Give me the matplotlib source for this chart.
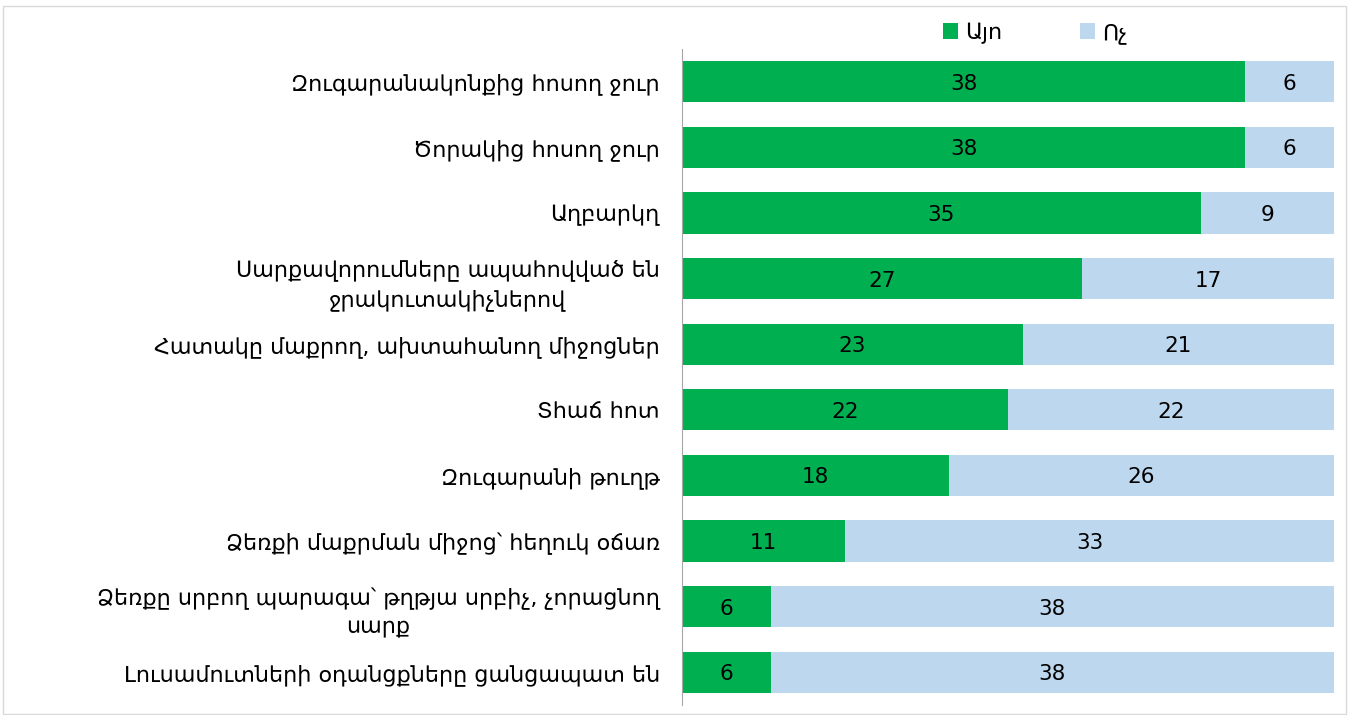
import matplotlib.pyplot as plt
from matplotlib.patches import Rectangle

plt.rcParams['font.family'] = ['DejaVu Sans']

# Տվյալներ
kategorianer = [
    "Զուգարանակոնքից հոսող ջուր",
    "Ծորակից հոսող ջուր",
    "Աղբարկղ",
    "Սարքավորումները ապահովված են\nջրակուտակիչներով",
    "Հատակը մաքրող, ախտահանող միջոցներ",
    "Տհաճ հոտ",
    "Զուգարանի թուղթ",
    "Ձեռքի մաքրման միջոց՝ հեղուկ օճառ",
    "Ձեռքը սրբող պարագա՝ թղթյա սրբիչ, չորացնող\nսարք",
    "Լուսամուտների օդանցքները ցանցապատ են",
]
ayo = [38, 38, 35, 27, 23, 22, 18, 11, 6, 6]
voch = [6, 6, 9, 17, 21, 22, 26, 33, 38, 38]
legend_labels = ["Այո", "Ոչ"]

fig = plt.figure(figsize=(13.49, 7.15), dpi=100)
ax = fig.add_axes([682 / 1349, 10 / 715, 652 / 1349, 656 / 715])

y = range(len(kategorianer))
b1 = ax.barh(y, ayo, height=0.63, color='#00B050', label=legend_labels[0])
b2 = ax.barh(y, voch, left=ayo, height=0.63, color='#BDD7EE', label=legend_labels[1])

# թվային պիտակներ
for i in y:
    ax.text(ayo[i] / 2, i + 0.03, str(ayo[i]), ha='center', va='center', fontsize=15.5)
    ax.text(ayo[i] + voch[i] / 2, i + 0.03, str(voch[i]), ha='center', va='center', fontsize=15.5)

ax.set_xlim(0, 44)
ax.set_ylim(9.5, -0.5)
ax.set_yticks(list(y))
ax.set_yticklabels(kategorianer, fontsize=16)
for t in ax.get_yticklabels():
    t.set_multialignment('center')
    t.set_linespacing(1.45)
ax.tick_params(axis='y', length=0, pad=16)
ax.set_xticks([])
for s in ['top', 'right', 'bottom']:
    ax.spines[s].set_visible(False)
ax.spines['left'].set_color('#A6A6A6')

fig.legend(handles=[b1, b2], labels=legend_labels, loc='center', bbox_to_anchor=(1035 / 1349, 1 - 33 / 715),
           ncol=2, frameon=False, fontsize=16, handlelength=0.7, handleheight=0.7,
           handletextpad=0.3, columnspacing=3.5)

# շրջանակ
fig.patches.append(Rectangle((0.002, 0.002), 0.996, 0.99, transform=fig.transFigure,
                             fill=False, edgecolor='#D9D9D9', linewidth=1))

fig.savefig('out.png', dpi=100)
